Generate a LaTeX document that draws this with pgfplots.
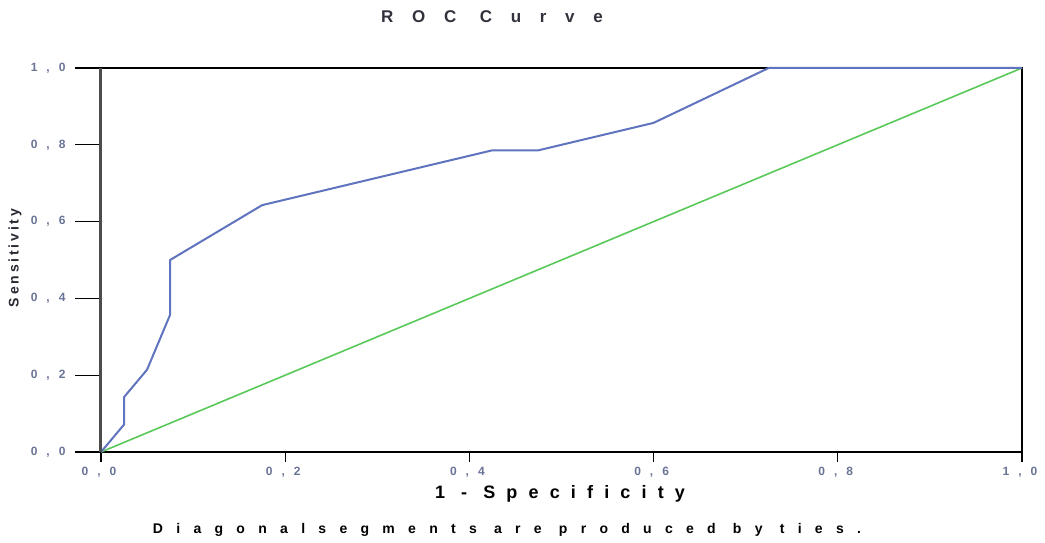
\documentclass[border=0pt]{standalone}
\usepackage{pgfplots}
\pgfplotsset{compat=1.18}
\usepackage{fontspec}
\setmainfont{Liberation Sans}
\newfontfamily\titlefont{Liberation Sans}[LetterSpace=110]
\newfontfamily\xlabfont{Liberation Sans}[LetterSpace=62]
\newfontfamily\notefont{Liberation Sans}[LetterSpace=95]
\newfontfamily\tickfont{Liberation Sans}[LetterSpace=75]
\newfontfamily\ylabfont{Liberation Sans}[LetterSpace=20]
\definecolor{roc}{RGB}{95,115,190}
\definecolor{diag}{RGB}{90,200,90}
\definecolor{tickc}{RGB}{105,115,150}
\begin{document}
\begin{tikzpicture}[x=1pt,y=1pt]
\path[use as bounding box] (-101,-90) rectangle (944,452);
\begin{axis}[
  at={(0,0)}, anchor=south west, scale only axis,
  width=921pt, height=384pt,
  xmin=0, xmax=1, ymin=0, ymax=1,
  xtick={0,0.2,0.4,0.6,0.8,1}, ytick={0,0.2,0.4,0.6,0.8,1},
  xtick pos=bottom, ytick pos=left,
  tick align=outside, major tick length=10pt,
  axis line style={black, line width=1.5pt},
  tick style={black, line width=1.3pt},
  /pgf/number format/assume math mode=true,
  /pgf/number format/use comma,
  /pgf/number format/fixed, /pgf/number format/fixed zerofill,
  /pgf/number format/precision=1,
  ticklabel style={font=\tickfont\bfseries\fontsize{12}{14}\selectfont, text=tickc},
  yticklabel style={xshift=-22pt},
  xticklabel style={yshift=-2pt, xshift=-2pt},
  clip=false,
]
\addplot[diag, line width=1.6pt] coordinates {(0,0) (1,1)};
\addplot[roc, line width=2pt, line join=round] coordinates {
(0,0) (0.025,0.0714) (0.025,0.1429) (0.05,0.2143) (0.075,0.3571) (0.075,0.5)
(0.175,0.6429) (0.425,0.7857) (0.475,0.7857) (0.6,0.8571) (0.725,1) (1,1)};
\end{axis}
\draw[black!70, line width=3pt] (0,0) -- (0,384);
\foreach \v in {0,1,2,3,4,5} \draw[black, line width=1.3pt] (-9,\v*76.8) -- (-26,\v*76.8);
\node[font=\titlefont\bfseries\fontsize{17}{20}\selectfont, text={rgb,255:red,50;green,50;blue,60}] at (391,435) {ROC Curve};
\node[font=\xlabfont\bfseries\fontsize{18}{21}\selectfont] at (459,-42) {1 - Specificity};
\node[font=\notefont\bfseries\fontsize{14}{16}\selectfont] at (406,-78) {Diagonalsegments are produced by ties.};
\node[rotate=90, font=\ylabfont\bfseries\fontsize{14}{16}\selectfont, text={rgb,255:red,40;green,40;blue,50}] at (-86,194) {Sensitivity};
\end{tikzpicture}
\end{document}
